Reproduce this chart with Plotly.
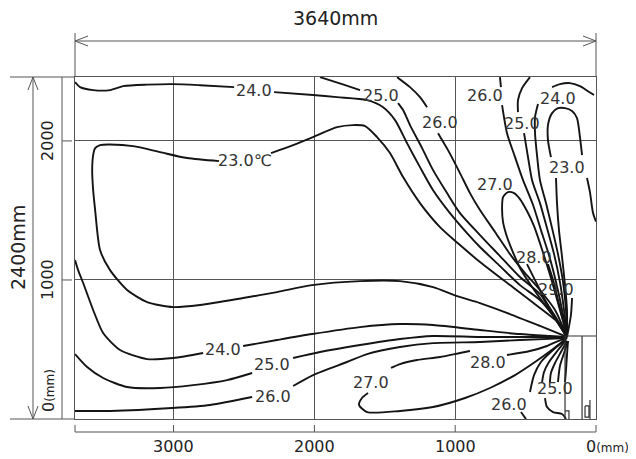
import plotly.graph_objects as go

# ---------------- axes (mm) ----------------
X_RANGE = [3700, 0]
Y_RANGE = [0, 2460]
x_grid = [3000, 2000, 1000]
y_grid = [2000, 1000]
x_tick_vals = [3000, 2000, 1000]
x_tick_text = ["3000", "2000", "1000"]
y_tick_vals = [2000, 1000]
y_tick_text = ["2000", "1000"]
width_label = "3640mm"
height_label = "2400mm"

# ---------------- isotherm polylines (mm) ----------------
c24_top_a_x = [3700, 3664, 3571, 3451, 3358, 3188, 3003, 2812, 2570]
c24_top_a_y = [2423, 2387, 2366, 2366, 2394, 2405, 2409, 2401, 2387]
c24_top_b_x = [2286, 2009, 1839, 1626, 1512, 1427, 1342, 1250, 1157, 1037, 916, 824, 682, 540, 398, 291, 206]
c24_top_b_y = [2351, 2330, 2315, 2294, 2243, 2150, 1984, 1812, 1646, 1481, 1337, 1237, 1100, 963, 856, 726, 590]

c23_a_x = [2677, 2904, 3096, 3287, 3451, 3522, 3557, 3571, 3578, 3571, 3557, 3522, 3451, 3330, 3188, 3003,
           2812, 2506, 2265, 2016, 1676, 1392, 1157, 987, 824, 611, 398, 206]
c23_a_y = [1855, 1877, 1920, 1963, 1974, 1970, 1948, 1898, 1790, 1646, 1503, 1215, 1071, 928, 841, 805,
           820, 870, 913, 963, 992, 992, 949, 884, 834, 755, 669, 590]
c23_b_x = [2308, 2151, 2009, 1839, 1725, 1640, 1555, 1463, 1370, 1250, 1108, 966, 824, 611, 398, 234, 206]
c23_b_y = [1913, 1970, 2028, 2099, 2114, 2107, 2028, 1913, 1740, 1553, 1380, 1251, 1129, 963, 798, 661, 590]

c25_top_a_x = [1960, 1803, 1676]
c25_top_a_y = [2459, 2409, 2366]
c25_top_b_x = [1406, 1370, 1321, 1235, 1157, 1058, 966, 824, 682, 540, 398, 291, 206]
c25_top_b_y = [2272, 2222, 2114, 1948, 1790, 1625, 1481, 1323, 1172, 1021, 899, 741, 590]

c26_top_a_x = [1413, 1321, 1250, 1200]
c26_top_a_y = [2459, 2387, 2315, 2243]
c26_top_b_x = [1122, 1051, 966, 895, 824, 717, 611, 504, 398, 291, 206]
c26_top_b_y = [2056, 1934, 1769, 1625, 1503, 1345, 1186, 1050, 928, 784, 590]

c26_right_a_x = [682, 675]
c26_right_a_y = [2459, 2387]
c26_right_b_x = [667, 632, 575, 518, 447, 391, 334, 284, 241, 206]
c26_right_b_y = [2258, 2056, 1884, 1718, 1539, 1359, 1179, 985, 784, 590]

c25_right_a_x = [469, 525, 554, 554]
c25_right_a_y = [2459, 2380, 2294, 2207]
c25_right_b_x = [511, 483, 454, 398, 348, 298, 256, 227, 206]
c25_right_b_y = [2056, 1884, 1718, 1553, 1373, 1186, 985, 784, 590]

c24_right_a_x = [14, 57, 114, 185, 256, 312]
c24_right_a_y = [2330, 2358, 2394, 2416, 2409, 2387]
c24_right_b_x = [412, 433, 433, 419, 398, 355, 312, 270, 234, 213, 206]
c24_right_b_y = [2265, 2171, 2056, 1898, 1718, 1553, 1373, 1186, 985, 784, 590]

c23_right_low_x = [206, 206, 220, 241, 263, 277, 284]
c23_right_low_y = [590, 784, 963, 1165, 1359, 1553, 1733]
c23_right_u_x = [320, 341, 341, 312, 270, 220, 170, 135, 114, 99]
c23_right_u_y = [1884, 2006, 2114, 2200, 2236, 2236, 2215, 2164, 2028, 1898]
c23_right_r_x = [64, 43, 21, 0]
c23_right_r_y = [1733, 1632, 1481, 1420]

c27_up_x = [206, 270, 362, 454, 540, 596, 632, 660, 667, 660, 625, 582, 540, 490, 440, 398, 355, 305, 256, 206]
c27_up_y = [590, 697, 820, 949, 1086, 1215, 1309, 1416, 1524, 1596, 1632, 1625, 1582, 1496, 1388, 1265, 1129, 963, 784, 590]

c28_up_l_x = [490, 433, 362, 284, 206]
c28_up_l_y = [1114, 999, 856, 712, 590]
c28_up_r_x = [341, 305, 270, 234, 206]
c28_up_r_y = [1114, 999, 856, 712, 590]
c29_l_x = [376, 327, 270, 206]
c29_l_y = [870, 784, 690, 590]
c29_r_x = [170, 178, 206]
c29_r_y = [870, 748, 590]

c24_low_a_x = [3700, 3678, 3642, 3571, 3500, 3380, 3188, 3003, 2790]
c24_low_a_y = [1143, 1071, 978, 784, 618, 496, 431, 439, 475]
c24_low_b_x = [2506, 2265, 2016, 1676, 1392, 1157, 824, 540, 327, 206]
c24_low_b_y = [525, 568, 611, 661, 683, 676, 640, 611, 597, 590]

c25_low_a_x = [3700, 3614, 3500, 3330, 3096, 2861, 2620, 2442]
c25_low_a_y = [467, 374, 295, 230, 223, 244, 280, 331]
c25_low_b_x = [2151, 1960, 1676, 1392, 1157, 824, 540, 206]
c25_low_b_y = [439, 482, 532, 575, 597, 590, 590, 590]

c26_low_a_x = [3700, 3451, 3010, 2741, 2442]
c26_low_a_y = [58, 58, 79, 101, 158]
c26_low_b_x = [2151, 2009, 1768, 1626, 1392, 1157, 824, 540, 206]
c26_low_b_y = [237, 316, 410, 467, 518, 546, 554, 568, 582]

c27_low_top_x = [1456, 1392, 1271, 1108, 966, 895]
c27_low_top_y = [367, 395, 424, 446, 475, 489]
c28_low_r_x = [632, 469, 348, 270, 206]
c28_low_r_y = [460, 489, 525, 561, 582]
c27_low_loop_x = [206, 305, 433, 575, 753, 930, 1157, 1392, 1626, 1683, 1662, 1619]
c27_low_loop_y = [582, 503, 410, 316, 223, 151, 86, 58, 50, 101, 151, 187]

f26_x = [220, 305, 391, 440, 469]
f26_y = [568, 496, 410, 316, 194]
f26_tail_x = [533, 497]
f26_tail_y = [50, 0]
fa_x = [213, 270, 334, 369, 383]
fa_y = [568, 496, 410, 338, 266]
fb_x = [206, 249, 291, 320, 327]
fb_y = [561, 482, 403, 331, 266]
fc_x = [199, 227, 256, 270]
fc_y = [561, 475, 381, 266]
fd_x = [199, 206, 213, 220]
fd_y = [561, 460, 352, 266]
f25_hook_x = [362, 348, 305, 241, 213]
f25_hook_y = [151, 86, 50, 36, 0]

# isotherm labels
label_text = ["24.0", "23.0℃", "25.0", "26.0", "26.0", "25.0", "24.0", "23.0", "27.0", "28.0", "29.0",
              "24.0", "25.0", "26.0", "28.0", "27.0", "26.0", "25.0"]
label_x = [2428, 2496, 1527, 1108, 788, 525, 270, 206, 717, 440, 284,
           2648, 2300, 2293, 767, 1598, 618, 291]
label_y = [2366, 1862, 2330, 2135, 2330, 2128, 2308, 1812, 1690, 1165, 935,
           503, 395, 165, 410, 266, 101, 223]

# outlet unit outline (mm)
unit_x = [220, 220, 0]
unit_y = [0, 597, 597]
unit_inner_x = [99, 99]
unit_inner_y = [0, 597]
unit_d_x = [43, 43]
unit_d_y = [137, 0]
unit_dbox_x = [78, 50, 50, 78, 78]
unit_dbox_y = [94, 94, 14, 14, 94]
unit_foot_x = [220, 192, 192]
unit_foot_y = [58, 58, 0]

contours = [
    (c24_top_a_x, c24_top_a_y), (c24_top_b_x, c24_top_b_y),
    (c23_a_x, c23_a_y), (c23_b_x, c23_b_y),
    (c25_top_a_x, c25_top_a_y), (c25_top_b_x, c25_top_b_y),
    (c26_top_a_x, c26_top_a_y), (c26_top_b_x, c26_top_b_y),
    (c26_right_a_x, c26_right_a_y), (c26_right_b_x, c26_right_b_y),
    (c25_right_a_x, c25_right_a_y), (c25_right_b_x, c25_right_b_y),
    (c24_right_a_x, c24_right_a_y), (c24_right_b_x, c24_right_b_y),
    (c23_right_low_x, c23_right_low_y), (c23_right_u_x, c23_right_u_y), (c23_right_r_x, c23_right_r_y),
    (c27_up_x, c27_up_y), (c28_up_l_x, c28_up_l_y), (c28_up_r_x, c28_up_r_y),
    (c29_l_x, c29_l_y), (c29_r_x, c29_r_y),
    (c24_low_a_x, c24_low_a_y), (c24_low_b_x, c24_low_b_y),
    (c25_low_a_x, c25_low_a_y), (c25_low_b_x, c25_low_b_y),
    (c26_low_a_x, c26_low_a_y), (c26_low_b_x, c26_low_b_y),
    (c27_low_top_x, c27_low_top_y), (c28_low_r_x, c28_low_r_y), (c27_low_loop_x, c27_low_loop_y),
    (f26_x, f26_y), (f26_tail_x, f26_tail_y), (fa_x, fa_y), (fb_x, fb_y), (fc_x, fc_y), (fd_x, fd_y),
    (f25_hook_x, f25_hook_y),
]
unit_parts = [(unit_x, unit_y), (unit_inner_x, unit_inner_y), (unit_d_x, unit_d_y),
              (unit_dbox_x, unit_dbox_y), (unit_foot_x, unit_foot_y)]

fig = go.Figure()
for xs, ys in contours:
    fig.add_trace(go.Scatter(x=xs, y=ys, mode="lines", hoverinfo="skip", showlegend=False,
                             line=dict(color="#141414", width=1.9, shape="spline", smoothing=0.7)))
for xs, ys in unit_parts:
    fig.add_trace(go.Scatter(x=xs, y=ys, mode="lines", hoverinfo="skip", showlegend=False,
                             line=dict(color="#333333", width=1.2)))

FONT = "DejaVu Sans"
TXT = "#333333"
ann = []
for t, x, y in zip(label_text, label_x, label_y):
    ann.append(dict(x=x, y=y, xref="x", yref="y", text=t, showarrow=False,
                    xanchor="center", yanchor="middle",
                    font=dict(family=FONT, size=16, color=TXT)))

# page geometry (window pixels; the page body adds an 8px offset)
OFF = 8
L, R, T, B = 75, 596, 77, 419
W, H = 636 - OFF, 459 - OFF
def px(v):
    return (v - L) / (R - L)
def py(v):
    return (B - v) / (B - T)

def text(x, y, t, xref="paper", yref="paper", size=16, angle=0, xanchor="center", yanchor="middle"):
    ann.append(dict(x=x, y=y, xref=xref, yref=yref, text=t, showarrow=False, textangle=angle,
                    xanchor=xanchor, yanchor=yanchor, font=dict(family=FONT, size=size, color="#222")))

for v, t in zip(x_tick_vals, x_tick_text):
    text(v, py(446), t, xref="x")
text(px(584), py(446), "0<span style='font-size:12px'>(mm)</span>", xanchor="left")
for v, t in zip(y_tick_vals, y_tick_text):
    text(px(48), v, t, yref="y", angle=-90)
text(px(48), py(391), "0<span style='font-size:12px'>(mm)</span>", angle=-90)
text(0.5, py(18), width_label, size=19)
text(px(18), 0.5, height_label, size=19, angle=-90)

G = "#555555"
shapes = []
def seg(x0, y0, x1, y1, color=G, w=1):
    shapes.append(dict(type="line", xref="paper", yref="paper", x0=px(x0), y0=py(y0), x1=px(x1), y1=py(y1),
                       line=dict(color=color, width=w)))
# top dimension
seg(75, 33, 75, 77); seg(596, 33, 596, 77); seg(75, 41, 596, 41)
seg(75, 41, 88, 36); seg(75, 41, 88, 46); seg(596, 41, 583, 36); seg(596, 41, 583, 46)
# left dimension
seg(10, 77, 75, 77); seg(10, 419, 75, 419); seg(33, 77, 33, 419)
seg(33, 77, 28, 90); seg(33, 77, 38, 90); seg(33, 419, 28, 406); seg(33, 419, 38, 406)
seg(62, 77, 62, 419)
for v in y_grid:
    shapes.append(dict(type="line", xref="paper", yref="y", x0=px(62), x1=px(72), y0=v, y1=v,
                       line=dict(color=G, width=1)))
# bottom axis
seg(75, 432, 596, 432)
seg(75, 425, 75, 432); seg(596, 425, 596, 432)
for v in x_grid:
    shapes.append(dict(type="line", xref="x", yref="paper", x0=v, x1=v, y0=py(425), y1=py(432),
                       line=dict(color=G, width=1)))

fig.update_layout(
    width=W, height=H,
    margin=dict(l=L - OFF, r=636 - R, t=T - OFF, b=459 - B),
    paper_bgcolor="white", plot_bgcolor="white",
    xaxis=dict(range=X_RANGE, tickvals=x_grid, showticklabels=False, ticks="", showgrid=True,
               gridcolor=G, gridwidth=1, zeroline=False, showline=True, linecolor=G, linewidth=1, mirror=True),
    yaxis=dict(range=Y_RANGE, tickvals=y_grid, showticklabels=False, ticks="", showgrid=True,
               gridcolor=G, gridwidth=1, zeroline=False, showline=True, linecolor=G, linewidth=1, mirror=True),
    annotations=ann, shapes=shapes,
)
fig.write_html("out.html")
